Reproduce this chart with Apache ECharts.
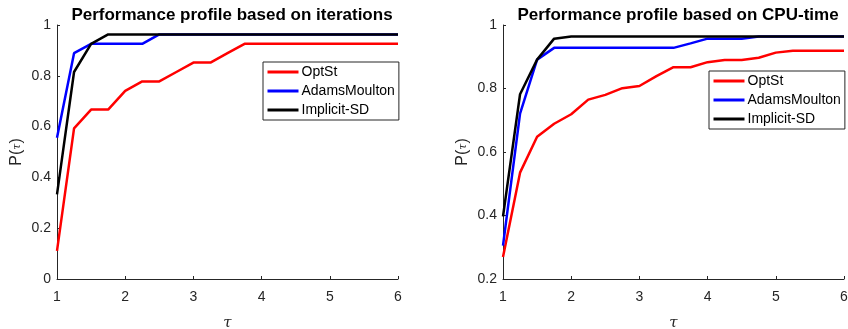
<!DOCTYPE html>
<html>
<head>
<meta charset="utf-8">
<script src="https://cdn.jsdelivr.net/npm/echarts@6/dist/echarts.min.js"></script>
<style>
  html, body { margin: 0; padding: 0; background: #fff; }
  #chart { width: 848px; height: 329px; }
</style>
</head>
<body>
<div id="chart"></div>
<script>
// tau values shared by both profiles
const tau = [1, 1.25, 1.5, 1.75, 2, 2.25, 2.5, 2.75, 3, 3.25, 3.5, 3.75, 4, 4.25, 4.5, 4.75, 5, 5.25, 5.5, 5.75, 6]

const solvers = ['OptSt', 'AdamsMoulton', 'Implicit-SD']
const colors = ['#ff0000', '#0000ff', '#000000']

// left: based on iterations
const iterOptSt = [0.111, 0.593, 0.667, 0.667, 0.741, 0.778, 0.778, 0.815, 0.852, 0.852, 0.889, 0.926, 0.926, 0.926, 0.926, 0.926, 0.926, 0.926, 0.926, 0.926, 0.926]
const iterAdams = [0.556, 0.889, 0.926, 0.926, 0.926, 0.926, 0.963, 0.963, 0.963, 0.963, 0.963, 0.963, 0.963, 0.963, 0.963, 0.963, 0.963, 0.963, 0.963, 0.963, 0.963]
const iterImplicit = [0.333, 0.815, 0.926, 0.963, 0.963, 0.963, 0.963, 0.963, 0.963, 0.963, 0.963, 0.963, 0.963, 0.963, 0.963, 0.963, 0.963, 0.963, 0.963, 0.963, 0.963]

// right: based on CPU-time
const cpuOptSt = [0.269, 0.535, 0.648, 0.689, 0.719, 0.765, 0.780, 0.801, 0.808, 0.839, 0.867, 0.867, 0.883, 0.890, 0.890, 0.897, 0.913, 0.919, 0.919, 0.919, 0.919]
const cpuAdams = [0.305, 0.721, 0.891, 0.928, 0.928, 0.928, 0.928, 0.928, 0.928, 0.928, 0.928, 0.942, 0.957, 0.957, 0.957, 0.964, 0.964, 0.964, 0.964, 0.964, 0.964]
const cpuImplicit = [0.397, 0.782, 0.891, 0.957, 0.964, 0.964, 0.964, 0.964, 0.964, 0.964, 0.964, 0.964, 0.964, 0.964, 0.964, 0.964, 0.964, 0.964, 0.964, 0.964, 0.964]

const xTicks = [1, 2, 3, 4, 5, 6]

const font = '"Liberation Sans", Arial, sans-serif'
const axisGray = '#262626'

const chart = echarts.init(document.getElementById('chart'))

const pairs = (vals) => tau.map((t, i) => [t, vals[i]])

const makeX = (gridIndex) => ({
	type: 'value',
	gridIndex,
	min: 1,
	max: 6,
	interval: 1,
	name: 'τ',
	nameLocation: 'middle',
	nameGap: 37,
	nameTextStyle: { fontFamily: '"DejaVu Serif", serif', fontStyle: 'italic', fontSize: 15, color: axisGray },
	axisLine: { lineStyle: { color: axisGray, width: 1 } },
	axisTick: { inside: true, length: 3, lineStyle: { color: axisGray } },
	axisLabel: { color: axisGray, fontSize: 14, fontFamily: font, margin: 11,
		formatter: (v) => (xTicks.includes(v) ? String(v) : '') },
	splitLine: { show: false },
})

const makeY = (gridIndex, min) => ({
	type: 'value',
	gridIndex,
	min,
	max: 1,
	interval: 0.2,
	name: 'P({t|τ})',
	nameLocation: 'middle',
	nameGap: 32,
	nameTextStyle: {
		fontFamily: font, fontSize: 16, color: axisGray,
		rich: { t: { fontFamily: '"DejaVu Serif", serif', fontStyle: 'italic', fontSize: 11, color: axisGray } },
	},
	axisLine: { show: true, lineStyle: { color: axisGray, width: 1 } },
	axisTick: { show: true, inside: true, length: 3, lineStyle: { color: axisGray } },
	axisLabel: { color: axisGray, fontSize: 14, fontFamily: font, margin: 6,
		formatter: (v) => String(Math.round(v * 10) / 10) },
	splitLine: { show: false },
})

const makeLegend = (left, top) => ({
	orient: 'vertical',
	left,
	top,
	data: solvers,
	backgroundColor: '#fff',
	borderColor: axisGray,
	borderWidth: 1,
	borderRadius: 0,
	padding: [3, 4, 3, 3],
	itemWidth: 31,
	itemHeight: 14,
	itemGap: 5,
	selectedMode: false,
	itemStyle: { opacity: 0 },
	lineStyle: { width: 3 },
	textStyle: { fontFamily: font, fontSize: 14, color: '#000', padding: [0, 0, 0, -2] },
})

const makeSeries = (name, vals, color, idx) => ({
	name,
	type: 'line',
	xAxisIndex: idx,
	yAxisIndex: idx,
	data: pairs(vals),
	symbol: 'none',
	color,
	lineStyle: { color, width: 2.5 },
	z: 2,
})

const gridBase = { top: 25, width: 341, height: 254, containLabel: false, outerBoundsMode: 'none' }

chart.setOption({
	animation: false,
	title: [
		{ text: 'Performance profile based on iterations', left: 227, top: 2, textAlign: 'center',
			textStyle: { fontFamily: font, fontSize: 17, fontWeight: 'bold', color: '#000' } },
		{ text: 'Performance profile based on CPU-time', left: 673, top: 2, textAlign: 'center',
			textStyle: { fontFamily: font, fontSize: 17, fontWeight: 'bold', color: '#000' } },
	],
	grid: [
		{ ...gridBase, left: 57 },
		{ ...gridBase, left: 503 },
	],
	xAxis: [makeX(0), makeX(1)],
	yAxis: [makeY(0, 0), makeY(1, 0.2)],
	legend: [makeLegend(263, 62), makeLegend(709, 71)],
	series: [
		makeSeries('OptSt', iterOptSt, colors[0], 0),
		makeSeries('AdamsMoulton', iterAdams, colors[1], 0),
		makeSeries('Implicit-SD', iterImplicit, colors[2], 0),
		makeSeries('OptSt', cpuOptSt, colors[0], 1),
		makeSeries('AdamsMoulton', cpuAdams, colors[1], 1),
		makeSeries('Implicit-SD', cpuImplicit, colors[2], 1),
	],
})
</script>
</body>
</html>
